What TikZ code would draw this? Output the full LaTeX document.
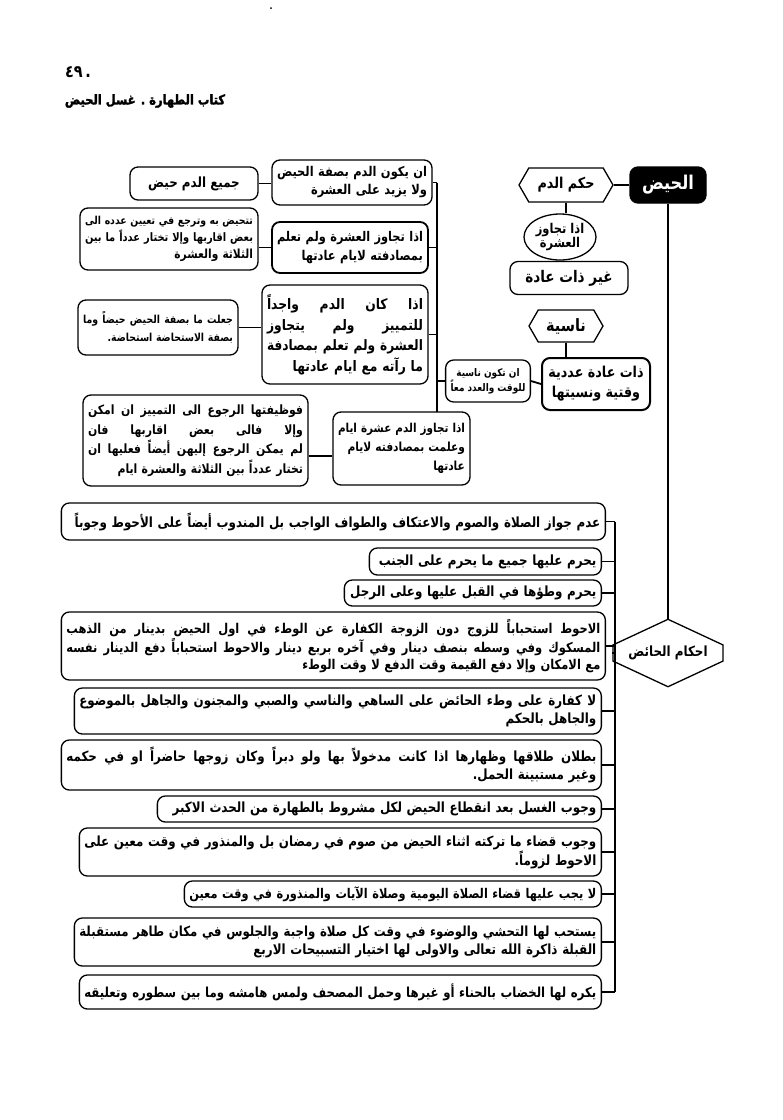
\documentclass[tikz,border=0pt]{standalone}
\usepackage{fontspec}
\usepackage{graphicx}
\usetikzlibrary{shapes.geometric,shapes.symbols}
\TeXXeTstate=1
\newfontfamily\ar[Script=Arabic,FakeStretch=0.85,BoldFont={DejaVu Sans Bold}]{DejaVu Sans}
\newfontfamily\arheavy[Script=Arabic,FakeStretch=0.85,FakeBold=2]{DejaVu Sans Bold}
% right-aligned line in a box with a text width (shrunk if too long)
\newcommand\R[1]{\noindent\setbox0=\hbox{\beginR #1\endR}\ifdim\wd0>\hsize\resizebox{\hsize}{!}{\box0}\else\box0\fi}
% justified line
\newcommand\J[1]{\noindent\setbox0=\hbox{\beginR #1\endR}\ifdim\wd0>\hsize\resizebox{\hsize}{!}{\box0}\else\hbox to\hsize{\spaceskip=.3em plus 1fil\beginR #1\endR}\fi}
% line in a centred node
\newcommand\C[1]{\hbox{\beginR #1\endR}}
\newcommand\fs[2]{\ar\bfseries\fontsize{#1}{#2}\selectfont}
\begin{document}
\begin{tikzpicture}[x=1pt,y=-1pt,
  bx/.style={draw, rounded corners=8pt, line width=1.3pt, inner xsep=5pt, inner ysep=1pt, align=right},
  cbx/.style={bx, align=center},
  hexh/.style={draw, signal, signal to=west and east, signal pointer angle=120, line width=1.3pt, inner sep=1pt},
  hexv/.style={draw, signal, signal to=north and south, signal pointer angle=130, line width=1.3pt, inner sep=1pt},
  ln/.style={line width=1.8pt}]
\useasboundingbox[fill=white] (0,0) rectangle (783,1120);

% header
\node[font=\fs{17}{18}] (pg) at (78,72) {٤٩\,.};
\node[font=\arheavy\fontsize{13.5}{15}\selectfont] (title) at (145,101) {\C{كتاب الطهارة . غسل الحيض}};
\fill (271,8) circle (1pt);

% right column
\node[bx, fill=black, text=white, minimum width=76pt, minimum height=36pt, align=center, font=\fs{19}{20}] (A) at (668,185) {\C{الحيض}};
\node[hexh, minimum width=94pt, minimum height=34pt, font=\fs{15}{16}] (B) at (566,185) {\C{حكم الدم}};
\node[draw, ellipse, line width=1.3pt, minimum width=72pt, minimum height=46pt, inner sep=0pt, align=center, font=\fs{13.5}{13}] (C) at (560,237) {\C{اذا تجاوز}\\\C{العشرة}};
\node[cbx, minimum width=118pt, minimum height=33pt, font=\fs{16}{18}] (D) at (569,278) {\C{غير ذات عادة}};
\node[hexh, minimum width=74pt, minimum height=32pt, font=\fs{17}{18}] (E) at (566,326) {\C{ناسية}};
\node[cbx, line width=2pt, minimum width=108pt, minimum height=52pt, font=\fs{15}{20}] (F) at (596,384) {\C{ذات عادة عددية}\\\C{وقتية ونسيتها}};
\node[cbx, minimum width=84pt, minimum height=42pt, font=\fs{10.5}{15}] (G) at (488,381) {\C{ان تكون ناسية}\\\C{للوقت والعدد معاً}};

% left upper part
\node[bx, text width=150pt, minimum height=45pt, font=\fs{13.5}{18}] (H) at (352,182.5) {\R{ان يكون الدم بصفة الحيض}\\\R{ولا يزيد على العشرة}};
\node[cbx, minimum width=128pt, minimum height=33pt, font=\fs{14}{16}] (I) at (194,183.5) {\C{جميع الدم حيض}};
\node[bx, line width=1.8pt, text width=146pt, minimum height=51pt, font=\fs{13.5}{19}] (J) at (350,247.5) {\J{اذا تجاوز العشرة ولم تعلم}\\\R{بمصادفته لايام عادتها}};
\node[bx, text width=168pt, minimum height=62pt, font=\fs{12.5}{17}] (K) at (169,239) {\J{تتحيض به وترجع في تعيين عدده الى}\\\J{بعض اقاربها وإلا تختار عدداً ما بين}\\\R{الثلاثة والعشرة}};
\node[bx, text width=156pt, minimum height=99pt, font=\fs{14.5}{20.5}] (L) at (345,334.5) {\J{اذا كان الدم واجداً}\\\J{للتمييز ولم يتجاوز}\\\J{العشرة ولم تعلم بمصادفة}\\\R{ما رآته مع ايام عادتها}};
\node[bx, text width=150pt, minimum height=55pt, font=\fs{11}{18}] (M) at (158,327.5) {\J{جعلت ما بصفة الحيض حيضاً وما}\\\R{بصفة الاستحاضة استحاضة.}};
\node[bx, text width=127pt, minimum height=73pt, font=\fs{12.5}{19}] (N) at (401.5,448.5) {\R{اذا تجاوز الدم عشرة ايام}\\\R{وعلمت بمصادفته لايام}\\\R{عادتها}};
\node[bx, text width=215pt, minimum height=91pt, font=\fs{12.8}{19.5}] (O) at (195.5,440.5) {\J{فوظيفتها الرجوع الى التمييز ان امكن}\\\J{وإلا فالى بعض اقاربها فان}\\\J{لم يمكن الرجوع إليهن أيضاً فعليها ان}\\\R{تختار عدداً بين الثلاثة والعشرة ايام}};

\coordinate (T1) at (437,182.5);
\coordinate (T2) at (437,412);
\draw[ln] (T1) -- (T2);
\draw[ln] (H.east) -- (H.east -| T1);
\draw[ln] (J.east) -- (J.east -| T1);
\draw[ln] (L.east) -- (L.east -| T1);
\draw[ln] (G.west) -- (G.west -| T1);
\draw[ln] (I.east) -- (I.east -| H.west);
\draw[ln] (J.west) -- (J.west -| K.east);
\draw[ln] (M.east) -- (M.east -| L.west);
\coordinate (yO) at (0,456);
\draw[ln] (O.east |- yO) -- (N.west |- yO);

\draw[ln] (A.west) -- (B.east);
\draw[ln] (B.south) -- (C.north -| B.south);
\draw[ln] (C.south -| D.north) -- (D.north);
\draw[ln] (D.south -| E.south) -- (E.south |- D.south) (E.south) -- (E.south |- F.north);
\draw[ln] (F.west) -- (G.east);

% احكام الحائض
\node[hexv, minimum width=110pt, minimum height=54pt, font=\fs{14}{16}] (P) at (668,653) {\C{احكام الحائض}};
\draw[ln] (A.south) -- (P.north);

% bottom list
\tikzset{lb/.style={bx, anchor=east, font=\fs{14}{18}}}
\node[lb, text width=534pt, minimum height=37pt] (b1) at (606,521.5) {\R{عدم جواز الصلاة والصوم والاعتكاف والطواف الواجب بل المندوب أيضاً على الأحوط وجوباً}};
\node[lb, text width=222pt, minimum height=27pt] (b2) at (602,561.5) {\R{يحرم عليها جميع ما يحرم على الجنب}};
\node[lb, text width=247pt, minimum height=26pt] (b3) at (602,593) {\R{يحرم وطؤها في القبل عليها وعلى الرجل}};
\node[lb, text width=534pt, minimum height=68pt, font=\fs{13.5}{17}] (b4) at (606,646) {\J{الاحوط استحباباً للزوج دون الزوجة الكفارة عن الوطء في اول الحيض بدينار من الذهب}\\\J{المسكوك وفي وسطه بنصف دينار وفي آخره بربع دينار والاحوط استحباباً دفع الدينار نفسه}\\\R{مع الامكان وإلا دفع القيمة وقت الدفع لا وقت الوطء}};
\node[lb, text width=517pt, minimum height=46pt] (b5) at (602,711) {\J{لا كفارة على وطء الحائض على الساهي والناسي والصبي والمجنون والجاهل بالموضوع}\\\R{والجاهل بالحكم}};
\node[lb, text width=530pt, minimum height=50pt] (b6) at (602,765) {\J{بطلان طلاقها وظهارها اذا كانت مدخولاً بها ولو دبراً وكان زوجها حاضراً او في حكمه}\\\R{وغير مستبينة الحمل.}};
\node[lb, text width=434pt, minimum height=26pt] (b7) at (602,809) {\R{وجوب الغسل بعد انقطاع الحيض لكل مشروط بالطهارة من الحدث الاكبر}};
\node[lb, text width=512pt, minimum height=48pt] (b8) at (602,852) {\J{وجوب قضاء ما تركته اثناء الحيض من صوم في رمضان بل والمنذور في وقت معين على}\\\R{الاحوط لزوماً.}};
\node[lb, text width=407pt, minimum height=26pt, font=\fs{13.5}{18}] (b9) at (602,894) {\R{لا يجب عليها قضاء الصلاة اليومية وصلاة الآيات والمنذورة في وقت معين}};
\node[lb, text width=517pt, minimum height=48pt] (b10) at (602,942) {\J{يستحب لها التحشي والوضوء في وقت كل صلاة واجبة والجلوس في مكان طاهر مستقبلة}\\\R{القبلة ذاكرة الله تعالى والاولى لها اختيار التسبيحات الاربع}};
\node[lb, text width=512pt, minimum height=34pt] (b11) at (602,992) {\R{يكره لها الخضاب بالحناء أو غيرها وحمل المصحف ولمس هامشه وما بين سطوره وتعليقه}};

\coordinate (U1) at (615,521.5);
\coordinate (U2) at (615,992);
\draw[ln] (U1) -- (U2);
\foreach \b in {b1,b2,b3,b4,b5,b6,b7,b8,b9,b10,b11}{\draw[ln] (\b.east) -- (\b.east -| U1);}
\draw[ln] (P.west) -- (P.west -| U1);
\end{tikzpicture}
\end{document}
